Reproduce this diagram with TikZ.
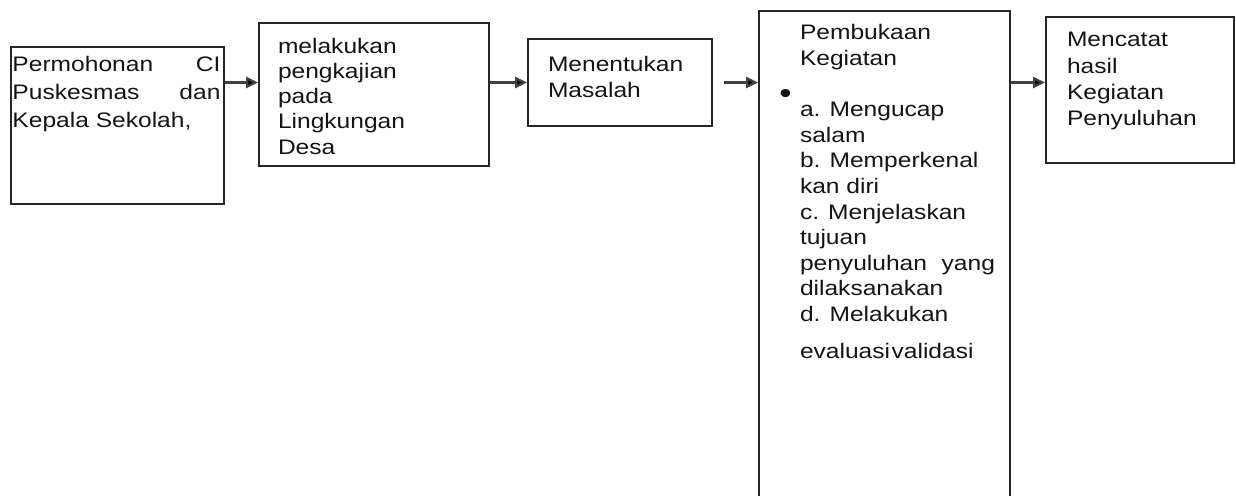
\documentclass[tikz,border=0pt]{standalone}
\usepackage{fontspec}
\setmainfont{Liberation Sans}[FakeStretch=1.17]
\usetikzlibrary{arrows.meta}
\begin{document}
\begin{tikzpicture}[x=1pt,y=-1pt,
  box/.style={draw=black!85, line width=1.8pt, inner sep=0pt, fill=none},
  txt/.style={anchor=base west, inner sep=0pt, outer sep=0pt, text=black!92},
  conn/.style={draw=black!75, line width=2.2pt, -{Triangle[length=12pt,width=11pt,fill=black]}},
]
\useasboundingbox (0,0) rectangle (1236,495);
\clip (0,0) rectangle (1236,495);
% boxes
\node[box, minimum width=213pt, minimum height=157pt] (b1) at (117.5,125.5) {};
\node[box, minimum width=230pt, minimum height=143pt] (b2) at (374,94.5) {};
\node[box, minimum width=184pt, minimum height=87pt] (b3) at (620,82.5) {};
\node[box, minimum width=251pt, minimum height=530pt] (b4) at (884.5,276) {};
\node[box, minimum width=188pt, minimum height=146pt] (b5) at (1140,90) {};
% texts
\node[txt] (t1) at (12.5,71) {\parbox[t]{208pt}{\fontsize{21}{28}\selectfont
  Permohonan\hfill CI\\Puskesmas\hfill dan\\Kepala Sekolah,}};
\node[txt] (t2) at (278,53) {\parbox[t]{200pt}{\fontsize{21}{25.3}\selectfont
  melakukan\\pengkajian\\pada\\Lingkungan\\Desa}};
\node[txt] (t3) at (548,71) {\parbox[t]{160pt}{\fontsize{21}{26}\selectfont
  Menentukan\\Masalah}};
\node[txt] (t4) at (800,40) {\parbox[t]{195pt}{\fontsize{21}{25.6}\selectfont
  Pembukaan\\Kegiatan\\[25.5pt]
  a. Mengucap\\salam\\b. Memperkenal\\kan diri\\c. Menjelaskan\\tujuan\\
  penyuluhan\hfill yang\\dilaksanakan\\d. Melakukan\\[11pt]
  {\spaceskip=1.5pt evaluasi validasi}}};
\node[txt, anchor=center] (bul) at (785.5,96) {\fontsize{30}{30}\selectfont •};
\node[txt] (t5) at (1067,47) {\parbox[t]{160pt}{\fontsize{21}{26.3}\selectfont
  Mencatat\\hasil\\Kegiatan\\Penyuluhan}};
% connectors
\draw[conn] (b1.east |- b3) -- (b2.west |- b3);
\draw[conn] (b2.east |- b3) -- (b3.west);
\draw[conn, shorten <=11pt] (b3.east) -- (b4.west |- b3);
\draw[conn] (b4.east |- b3) -- (b5.west |- b3);
\end{tikzpicture}
\end{document}
